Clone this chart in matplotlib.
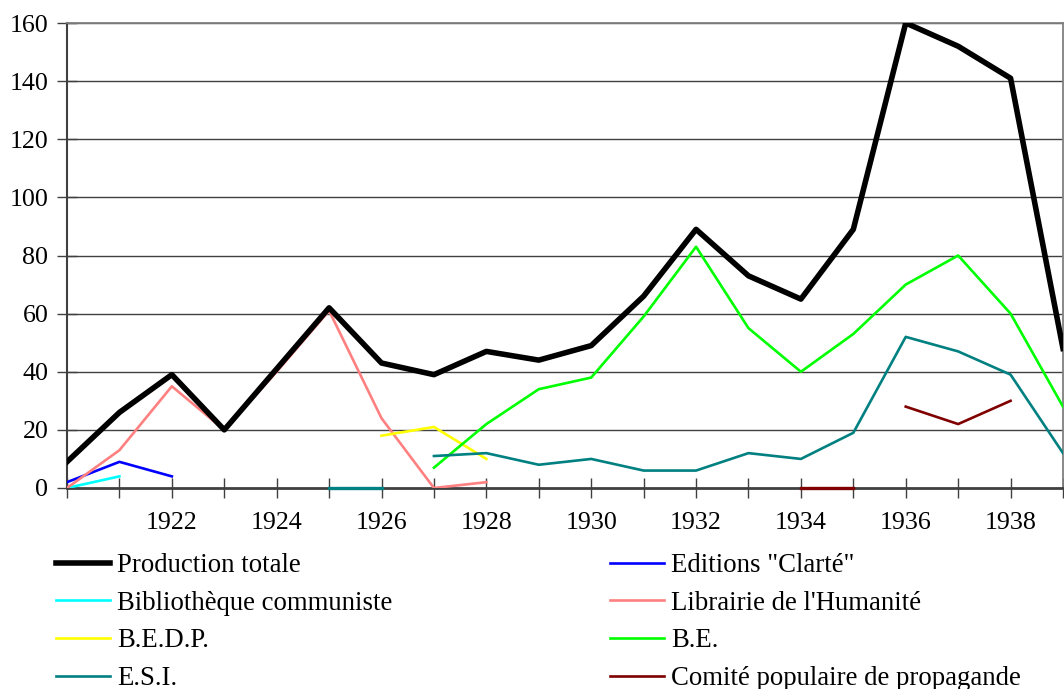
import matplotlib.pyplot as plt
import numpy as np

years = list(range(1920, 1940))

production = [9, 26, 39, 20, 41, 62, 43, 39, 47, 44, 49, 66, 89, 73, 65, 89, 160, 152, 141, 48]
clarte_years = [1920, 1921, 1922]
clarte = [2, 9, 4]
biblio_years = [1920, 1921]
biblio = [0, 4]
librairie_years = [1920, 1921, 1922, 1923, 1924, 1925, 1926, 1927, 1928]
librairie = [0, 13, 35, 20, 40, 61, 24, 0, 2]
bedp_years = [1926, 1927, 1928]
bedp = [18, 21, 10]
be_years = list(range(1927, 1940))
be = [7, 22, 34, 38, 59, 83, 55, 40, 53, 70, 80, 60, 28]
esi_years = list(range(1927, 1940))
esi = [11, 12, 8, 10, 6, 6, 12, 10, 19, 52, 47, 39, 12]
esi_zero_years = [1925, 1926]
esi_zero = [0, 0]
comite_years = [1936, 1937, 1938]
comite = [28, 22, 30]
comite_zero_years = [1934, 1935]
comite_zero = [0, 0]

plt.rcParams['font.family'] = ['Liberation Serif', 'DejaVu Serif']
plt.rcParams['font.size'] = 18.7

fig = plt.figure(figsize=(10.64, 6.89), dpi=100)
ax = fig.add_axes([67/1064, 1-488/689, (1063-67)/1064, (488-23)/689])

for v in range(20, 161, 20):
    ax.axhline(v, color='#404040', lw=1.0, zorder=1)

lw = 1.9
h_prod, = ax.plot(years, production, color='black', lw=4.0, label='Production totale', zorder=5)
h_clarte, = ax.plot(clarte_years, clarte, color='#0000FF', lw=lw, label='Editions "Clarté"', zorder=4)
h_biblio, = ax.plot(biblio_years, biblio, color='#00FFFF', lw=lw, label='Bibliothèque communiste', zorder=4)
h_lib, = ax.plot(librairie_years, librairie, color='#FF8080', lw=lw, label="Librairie de l'Humanité", zorder=4)
h_bedp, = ax.plot(bedp_years, bedp, color='#FFFF00', lw=lw, label='B.E.D.P.', zorder=4)
h_be, = ax.plot(be_years, be, color='#00FF00', lw=lw, label='B.E.', zorder=4)
h_esi, = ax.plot(esi_years, esi, color='#008080', lw=lw, label='E.S.I.', zorder=4)
ax.plot(esi_zero_years, esi_zero, color='#008080', lw=2.4, zorder=6, clip_on=False)
h_com, = ax.plot(comite_years, comite, color='#800000', lw=lw, label='Comité populaire de propagande', zorder=4)
ax.plot(comite_zero_years, comite_zero, color='#800000', lw=2.4, zorder=6, clip_on=False)

ax.set_xlim(1920, 1939)
ax.set_ylim(0, 160)
ax.set_yticks(range(0, 161, 20))
ax.set_xticks(years)
ax.set_xticklabels([str(y) if (y % 2 == 0 and 1922 <= y <= 1938) else '' for y in years])

for s in ['top', 'right']:
    ax.spines[s].set_color('#808080')
    ax.spines[s].set_linewidth(1.3)
ax.spines['left'].set_color('#404040')
ax.spines['left'].set_linewidth(1.5)
ax.spines['bottom'].set_color('#404040')
ax.spines['bottom'].set_linewidth(2)

ax.tick_params(axis='x', direction='inout', length=14, width=1, color='#404040', pad=10)
ax.tick_params(axis='y', direction='inout', length=15, width=1, color='#404040', pad=6)

handles = [h_prod, h_biblio, h_bedp, h_esi, h_clarte, h_lib, h_be, h_com]
fig.legend(handles=handles, ncol=2, loc='upper left', bbox_to_anchor=(56/1064, 0.197),
           frameon=False, fontsize=19.3, handlelength=2.0, handletextpad=0.28, columnspacing=8.12,
           labelspacing=0.47, borderaxespad=0, borderpad=0)

plt.savefig('out.png', dpi=100)
